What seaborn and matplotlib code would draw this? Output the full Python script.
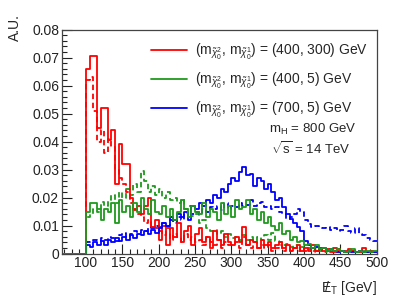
import numpy as np
import pandas as pd
import matplotlib
matplotlib.use('Agg')
import matplotlib.pyplot as plt
from matplotlib.lines import Line2D
from matplotlib.ticker import MultipleLocator
import seaborn as sns

# bins: 5 GeV wide, from 65 to 500 GeV (everything below 100 is empty)
bin_edges = list(range(65, 505, 5))
n_empty = 7

# (400, 300) GeV
red_solid = [
    .066, .0705, .0705, .045, .052, .052, .0405, .044, .025, .039,
    .032, .032, .020, .0155, .017, .014, .017, .020, .0095, .012,
    .005, .010, .003, .009, .006, .011, .004, .008, .010, .003,
    .007, .009, .004, .006, .002, .008, .005, .003, .007, .004,
    .003, .006, .004, .0095, .003, .005, .004, .002, .005, .003,
    .004, .002, .003, .004, .002, .003, .001, .002, .003, .001,
    .002, .001, .003, .001, .002, .001, .0015, .0005, .002, .001,
    .001, .0005, .0015, .001, .0005, .001, .002, .0005, .001, .0005]
red_dashed = [
    .062, .063, .051, .040, .044, .036, .041, .038, .030, .027,
    .025, .022, .018, .016, .014, .013, .011, .012, .010, .009,
    .008, .0065, .009, .005, .007, .006, .004, .007, .005, .006,
    .004, .005, .003, .006, .004, .003, .005, .002, .004, .003,
    .003, .004, .002, .006, .003, .002, .004, .002, .003, .002,
    .003, .001, .002, .003, .001, .002, .001, .002, .001, .002,
    .001, .0015, .0005, .001, .002, .0005, .001, .001, .0005, .0015,
    .0005, .001, .0005, .001, .001, .0005, .001, .0005, .001, .0005]

# (400, 5) GeV
green_solid = [
    .015, .018, .018, .016, .012, .016, .015, .018, .011, .019,
    .015, .017, .013, .018, .015, .020, .016, .014, .019, .015,
    .014, .017, .013, .016, .012, .015, .019, .016, .013, .017,
    .015, .014, .018, .013, .016, .015, .012, .018, .014, .017,
    .013, .019, .016, .0165, .019, .014, .016, .012, .015, .011,
    .013, .010, .0085, .011, .007, .008, .005, .006, .004, .0045,
    .003, .0035, .002, .003, .0015, .002, .001, .0015, .001, .0015,
    .001, .0005, .001, .0015, .0005, .001, .0005, .001, .0005, .001]
green_dashed = [
    .013, .014, .016, .015, .0185, .017, .019, .021, .018, .022,
    .020, .023, .021, .025, .022, .0295, .026, .022, .024, .021,
    .023, .020, .022, .019, .020, .018, .0195, .016, .017, .0135,
    .014, .011, .012, .009, .008, .0085, .007, .008, .006, .007,
    .0055, .006, .005, .0065, .005, .006, .0045, .006, .005, .0065,
    .005, .0075, .0045, .004, .003, .0035, .0025, .003, .002, .0025,
    .0015, .002, .001, .0015, .001, .0015, .0005, .001, .001, .0005,
    .001, .0005, .0005, .001, .0005, .0005, .001, .0005, .0005, .0005]

# (700, 5) GeV
blue_solid = [
    .003, .0025, .004, .003, .0045, .003, .005, .004, .0055, .0045,
    .006, .005, .0065, .0055, .007, .0065, .008, .007, .0085, .0075,
    .009, .011, .010, .013, .012, .014, .013, .015, .012, .017,
    .016, .018, .017, .019, .018, .021, .020, .023, .022, .025,
    .027, .026, .029, .031, .028, .0285, .024, .027, .026, .023,
    .025, .022, .019, .020, .0165, .014, .0125, .011, .0095, .008,
    .0045, .003, .002, .0025, .0015, .002, .001, .0015, .001, .0005,
    .001, .0005, .001, .0005, .0005, .001, .0005, .0005, .0005, .0005]
blue_dashed = [
    .004, .0045, .005, .0045, .0055, .005, .006, .0055, .0045, .0065,
    .0075, .006, .007, .008, .0075, .0085, .008, .0095, .009, .010,
    .0095, .011, .010, .012, .011, .013, .012, .0145, .013, .014,
    .015, .014, .016, .015, .0165, .016, .017, .0155, .018, .016,
    .017, .0165, .018, .017, .0175, .019, .017, .018, .0185, .0165,
    .017, .016, .0165, .015, .014, .0125, .013, .014, .016, .015,
    .012, .0105, .0095, .010, .0095, .009, .0095, .0085, .009, .008,
    .0085, .010, .008, .0075, .009, .007, .0065, .0055, .005, .0045]

labels = [r'$(\mathrm{m}_{\tilde{\chi}^{2}_{0}},\,\mathrm{m}_{\tilde{\chi}^{1}_{0}})$ = (400, 300) GeV',
          r'$(\mathrm{m}_{\tilde{\chi}^{2}_{0}},\,\mathrm{m}_{\tilde{\chi}^{1}_{0}})$ = (400, 5) GeV',
          r'$(\mathrm{m}_{\tilde{\chi}^{2}_{0}},\,\mathrm{m}_{\tilde{\chi}^{1}_{0}})$ = (700, 5) GeV']
colors = ['#ff0000', '#1f9a1f', '#0000ff']


def main():
    sns.set_style('ticks')
    plt.rcParams['font.family'] = ['Liberation Sans', 'DejaVu Sans']
    plt.rcParams['mathtext.fontset'] = 'custom'
    plt.rcParams['mathtext.rm'] = 'Liberation Sans'
    plt.rcParams['mathtext.it'] = 'Liberation Sans:italic'
    plt.rcParams['mathtext.bf'] = 'Liberation Sans:bold'

    fig = plt.figure(figsize=(4.15, 2.98), dpi=100)
    ax = fig.add_axes([0.149, 0.149, 0.759, 0.752])

    centers = [e + 2.5 for e in bin_edges[:-1]]
    series = [(red_dashed, colors[0], '--'), (green_dashed, colors[1], '--'),
              (blue_dashed, colors[2], '--'),
              (red_solid, colors[0], '-'), (blue_solid, colors[2], '-'),
              (green_solid, colors[1], '-')]
    for vals, col, ls in series:
        df = pd.DataFrame({'met': centers, 'w': [0.0] * n_empty + list(vals)})
        sns.histplot(data=df, x='met', weights='w', bins=bin_edges, element='step',
                     fill=False, color=col, linewidth=1.3, ax=ax,
                     linestyle=(0, (3, 2)) if ls == '--' else '-')

    ax.set_xlim(66.7, 500)
    ax.set_ylim(0, 0.08)
    ax.set_xticks([100, 150, 200, 250, 300, 350, 400, 450, 500])
    ax.xaxis.set_minor_locator(MultipleLocator(10))
    ax.set_yticks(np.arange(0, 0.081, 0.01))
    ax.set_yticklabels(['0'] + ['%.2f' % v for v in np.arange(0.01, 0.081, 0.01)])
    ax.yaxis.set_minor_locator(MultipleLocator(0.002))
    ax.tick_params(which='both', direction='in', top=False, right=False,
                   labelsize=10, colors='#222222', width=0.8)
    ax.tick_params(which='major', length=7, pad=2)
    ax.tick_params(which='minor', length=3.5)
    for s in ax.spines.values():
        s.set_color('#444444')
        s.set_linewidth(0.9)
    ax.set_xlabel('')
    ax.set_ylabel('')

    handles = [Line2D([], [], color=c, lw=1.3) for c in colors]
    ax.legend(handles, labels, loc='upper left', bbox_to_anchor=(0.283, 0.945),
              frameon=False, fontsize=10, handlelength=2.6, handletextpad=0.55,
              labelspacing=0.62, borderpad=0, borderaxespad=0)

    ax.text(0.657, 0.554, r'$\mathrm{m}_{\mathrm{H}}$ = 800 GeV', transform=ax.transAxes,
            fontsize=9.5, va='center', ha='left')
    ax.text(0.664, 0.47, r'$\sqrt{\mathrm{s}}$ = 14 TeV', transform=ax.transAxes,
            fontsize=9.5, va='center', ha='left')

    fig.text(15 / 415, 1 - 27.5 / 298, 'A.U.', rotation=90, ha='center', va='center',
             fontsize=10)
    fig.text(377 / 415, 1 - 288 / 298, r'$/\!\!\!\!\mathrm{E}_{\mathrm{T}}$ [GeV]',
             ha='right', va='center', fontsize=10)

    fig.savefig('out.png', dpi=100)


if __name__ == '__main__':
    main()
